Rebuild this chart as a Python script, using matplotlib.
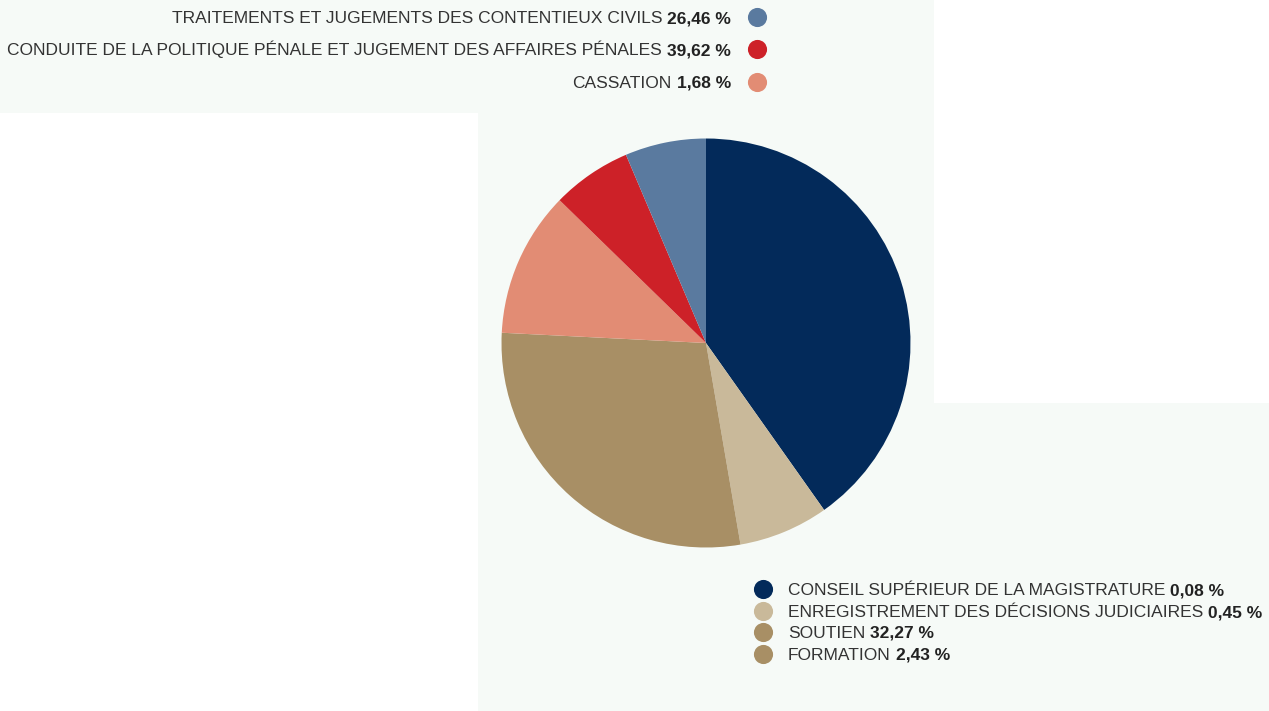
import matplotlib
matplotlib.use("Agg")
import matplotlib.pyplot as plt
from matplotlib.patches import Rectangle

W, H, DPI = 1269, 711, 100

# Pie slices as drawn (clockwise from 12 o'clock), shares
slice_names = ["CONSEIL SUPÉRIEUR DE LA MAGISTRATURE",
               "ENREGISTREMENT DES DÉCISIONS JUDICIAIRES",
               "SOUTIEN",
               "CASSATION",
               "CONDUITE DE LA POLITIQUE PÉNALE ET JUGEMENT DES AFFAIRES PÉNALES",
               "TRAITEMENTS ET JUGEMENTS DES CONTENTIEUX CIVILS"]
slice_shares = [40.2, 7.1, 28.5, 11.5, 6.3, 6.4]
slice_colors = ["#032a5a", "#c9b99a", "#a88f65", "#e28c74", "#cd2128", "#5a7a9f"]

# Legend texts
top_labels = ["TRAITEMENTS ET JUGEMENTS DES CONTENTIEUX CIVILS",
              "CONDUITE DE LA POLITIQUE PÉNALE ET JUGEMENT DES AFFAIRES PÉNALES",
              "CASSATION"]
top_values = ["26,46 %", "39,62 %", "1,68 %"]
top_colors = ["#5a7a9f", "#cd2128", "#e28c74"]

bottom_labels = ["CONSEIL SUPÉRIEUR DE LA MAGISTRATURE",
                 "ENREGISTREMENT DES DÉCISIONS JUDICIAIRES",
                 "SOUTIEN",
                 "FORMATION"]
bottom_values = ["0,08 %", "0,45 %", "32,27 %", "2,43 %"]
bottom_colors = ["#032a5a", "#c9b99a", "#a88f65", "#a88f65"]

BG = "#f6faf7"
TXT = "#333333"
VAL = "#222222"
FONT = "Liberation Sans"
FS = 12.5
BASE_OFF = 6  # pixels from row centre to text baseline

fig = plt.figure(figsize=(W / DPI, H / DPI), dpi=DPI, facecolor=BG)

# white areas of the page
def px_rect(x0, y0, x1, y1):
    fig.patches.append(Rectangle((x0 / W, 1 - y1 / H), (x1 - x0) / W, (y1 - y0) / H,
                                 transform=fig.transFigure, facecolor="white",
                                 edgecolor="none", zorder=0))
px_rect(0, 113, 478, H)
px_rect(934, 0, W, 403)

# pie
cx, cy, r = 706, 343, 204.5
ax = fig.add_axes([(cx - r) / W, (H - cy - r) / H, 2 * r / W, 2 * r / H])
ax.pie(slice_shares, colors=slice_colors, startangle=90, counterclock=False,
       radius=1, wedgeprops=dict(linewidth=0))
ax.set_xlim(-1, 1)
ax.set_ylim(-1, 1)
ax.set_aspect("equal")
ax.axis("off")

# overlay in pixel coordinates
ov = fig.add_axes([0, 0, 1, 1], facecolor="none")
ov.set_xlim(0, W)
ov.set_ylim(H, 0)
ov.axis("off")

fig.canvas.draw()
renderer = fig.canvas.get_renderer()

def width_px(t):
    bb = t.get_window_extent(renderer=renderer)
    return bb.width

msize = 190
GAP = 5
# top legend (right-aligned text, marker on right)
top_y = [17, 49, 82]
text_right = 731
marker_x_top = 757
for lab, val, col, y in zip(top_labels, top_values, top_colors, top_y):
    tv = ov.text(text_right, y + BASE_OFF, val, ha="right", va="baseline", fontsize=FS,
                 fontweight="bold", color=VAL, family=FONT)
    wv = width_px(tv)
    ov.text(text_right - wv - GAP, y + BASE_OFF, lab, ha="right", va="baseline",
            fontsize=FS, color=TXT, family=FONT)
    ov.scatter([marker_x_top], [y], s=msize, color=col, linewidths=0)

# bottom legend (marker on left, left-aligned text)
bot_y = [589, 611, 632, 654]
marker_x_bot = 763
text_left = 788
for lab, val, col, y in zip(bottom_labels, bottom_values, bottom_colors, bot_y):
    tl = ov.text(text_left, y + BASE_OFF, lab, ha="left", va="baseline", fontsize=FS,
                 color=TXT, family=FONT)
    wl = width_px(tl)
    ov.text(text_left + wl + GAP, y + BASE_OFF, val, ha="left", va="baseline",
            fontsize=FS, fontweight="bold", color=VAL, family=FONT)
    ov.scatter([marker_x_bot], [y], s=msize, color=col, linewidths=0)

fig.savefig("out.png", dpi=DPI, facecolor=BG)
